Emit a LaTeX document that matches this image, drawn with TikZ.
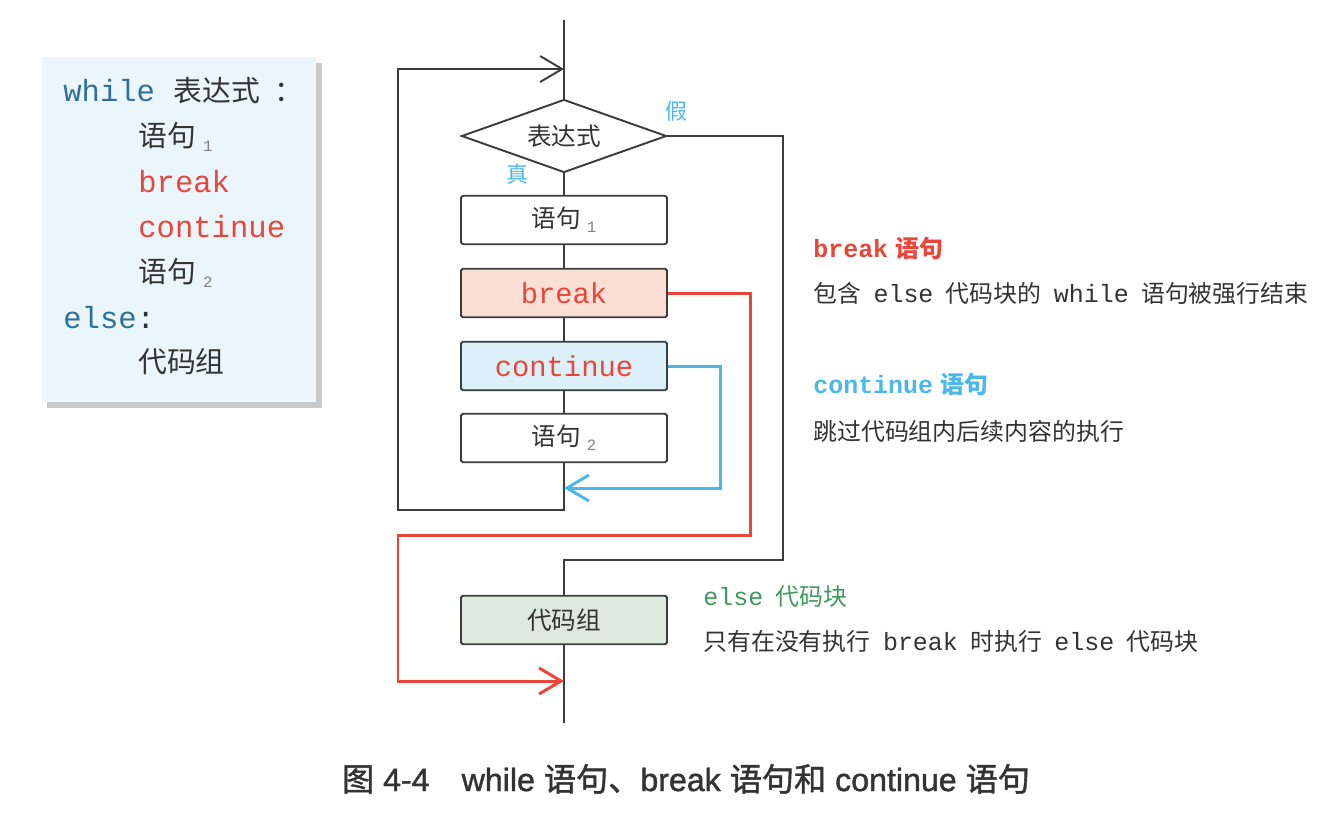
\documentclass[tikz,border=0pt]{standalone}
\usepackage{fontspec}
\setmainfont{Noto Sans CJK SC}
\newfontfamily\mono{Liberation Mono}
\newfontfamily\capfont[FakeBold=1.3]{Liberation Sans}
\newfontfamily\capzh[FakeBold=1.3]{Noto Sans CJK SC}
\usetikzlibrary{shapes.geometric,arrows.meta}
\definecolor{txt}{HTML}{333333}
\definecolor{kwblue}{HTML}{2E6F9C}
\definecolor{kwred}{HTML}{E8463A}
\definecolor{lnblue}{HTML}{4CB8EA}
\definecolor{kwgreen}{HTML}{3E9B5C}
\definecolor{codebg}{HTML}{EAF6FC}
\definecolor{codeshadow}{HTML}{C9C9C9}
\definecolor{brkbg}{HTML}{FBDFD5}
\definecolor{contbg}{HTML}{DCF0FA}
\definecolor{elsebg}{HTML}{DDE9DF}
\definecolor{frame}{HTML}{3C3C3C}
\newcommand{\codett}{\mono\fontsize{17.4}{20}\selectfont}
\newcommand{\boxtt}{\mono\fontsize{16.4}{20}\selectfont}
\newcommand{\notett}{\mono\fontsize{14.2}{16}\selectfont}
\newcommand{\gap}{\hspace{0.52em}}
\newcommand{\subidx}[1]{\hspace{0.25em}\raisebox{-3pt}{\mono\fontsize{9}{9}\selectfont\color{gray}#1}}
\tikzset{
  codeline/.style={anchor=base west,inner sep=0pt,text=txt,font=\fontsize{16.4}{20}\selectfont},
  stmt/.style={draw=frame,line width=1.1pt,rounded corners=1pt,minimum width=4.12cm,
    minimum height=0.97cm,inner sep=0pt,text=txt,font=\fontsize{14}{16}\selectfont},
  decision/.style={diamond,aspect=3,draw=frame,line width=1.1pt,minimum width=4.1cm,minimum height=1.46cm,
    inner sep=0pt,text=txt,font=\fontsize{14}{16}\selectfont},
  yesno/.style={inner sep=0pt,text=lnblue,font=\fontsize{12.5}{14}\selectfont},
  flow/.style={draw=frame,line width=1.1pt},
  brkline/.style={draw=kwred,line width=1.7pt},
  contline/.style={draw=lnblue,line width=1.7pt},
  barb/.style={-{Straight Barb[length=0.44cm,width=0.52cm]}},
  note/.style={anchor=base west,inner sep=0pt,text=txt,font=\fontsize{13.6}{16}\selectfont},
}
\begin{document}
\begin{tikzpicture}[x=0.02cm,y=-0.02cm]
\useasboundingbox (0,0) rectangle (1342,826);
% code block
\fill[codeshadow] (47,63) rectangle (322,408);
\fill[codebg] (42,57) rectangle (316,402);
\node[codeline] (cwhile) at (63,101) {{\codett\color{kwblue}while\ }表达式\hspace{0.5em}：};
\node[codeline] (cs1) at (138,146) {语句\subidx{1}};
\node[codeline] (cbrk) at (138,192) {\codett\color{kwred}break};
\node[codeline] (ccont) at (138,237) {\codett\color{kwred}continue};
\node[codeline] (cs2) at (138,282) {语句\subidx{2}};
\node[codeline] (celse) at (63,328) {\codett{\color{kwblue}else}:};
\node[codeline] (cgrp) at (138,372) {代码组};

% flowchart
\coordinate (top) at (564,20);
\coordinate (bottom) at (564,723);
\coordinate (loopin) at (564,69);
\coordinate (loopout) at (564,510);
\coordinate (contin) at (564,488);
\coordinate (falsein) at (564,560);
\coordinate (brkin) at (564,681);
\node[decision] (cond) at (564,136) {表达式};
\node[stmt] (s1) at (564,220) {语句\subidx{1}};
\node[stmt,fill=brkbg,text=kwred,font=\boxtt] (brk) at (564,293) {break};
\node[stmt,fill=contbg,text=kwred,font=\boxtt] (cont) at (564,366) {continue};
\node[stmt] (s2) at (564,438) {语句\subidx{2}};
\node[stmt,fill=elsebg] (grp) at (564,620) {代码组};
\node[yesno] (no) at (676,111) {假};
\node[yesno] (yes) at (517,174) {真};

\draw[flow] (top) -- (cond) -- (s1) -- (brk) -- (cont) -- (s2);
\draw[flow,barb] (s2) -- (loopout) -- ++(-166,0) |- (loopin);
\draw[flow] (cond.east) -- ++(116,0) |- (falsein) -- (grp);
\draw[flow] (grp) -- (bottom);
\draw[contline,barb] (cont.east) -| (720,488) -- (contin);
\draw[brkline,barb] (brk.east) -| (750,535) -| (398,681) -- (brkin);

% notes
\node[note,text=kwred] (nbrk) at (813,257) {{\notett\bfseries break}\hspace{0.3em}\bfseries 语句};
\node[note] (nbrk2) at (813,302) {包含\gap{\notett else}\gap 代码块的\gap{\notett while}\gap 语句被强行结束};
\node[note,text=lnblue] (ncont) at (813,393) {{\notett\bfseries continue}\hspace{0.3em}\bfseries 语句};
\node[note] (ncont2) at (813,440) {跳过代码组内后续内容的执行};
\node[note,text=kwgreen] (nelse) at (703,605) {{\notett else}\gap 代码块};
\node[note] (nelse2) at (703,650) {只有在没有执行\gap{\notett break}\gap 时执行\gap{\notett else}\gap 代码块};

% caption
\node[anchor=base,inner sep=0pt,text=txt,font=\capzh\fontsize{18.3}{20}\selectfont] (cap) at (686,791)
  {图{\capfont\ 4-4\quad while\ }语句、{\capfont break\ }语句和{\capfont\ continue\ }语句};
\end{tikzpicture}
\end{document}
